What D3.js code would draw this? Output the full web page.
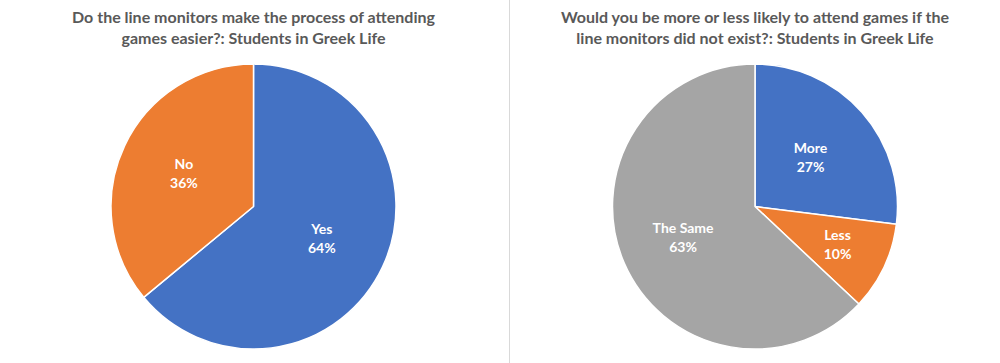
<!DOCTYPE html>
<html><head><meta charset="utf-8">
<script src="https://cdn.jsdelivr.net/npm/d3@7"></script>
<style>body{margin:0;background:#fff;} svg{display:block;}</style>
</head><body>
<svg id="chart" width="1000" height="363"></svg>
<script>
const leftTitle = ["Do the line monitors make the process of attending", "games easier?: Students in Greek Life"];
const leftLabels = ["Yes", "No"];
const leftValues = [64, 36];
const rightTitle = ["Would you be more or less likely to attend games if the", "line monitors did not exist?: Students in Greek Life"];
const rightLabels = ["More", "Less", "The Same"];
const rightValues = [27, 10, 63];
const colors = ["#4472C4", "#ED7D31", "#A5A5A5"];

const svg = d3.select("#chart");
const font = "Lato, 'Open Sans', sans-serif";

svg.append("line").attr("x1", 509.5).attr("x2", 509.5).attr("y1", 0).attr("y2", 363)
  .attr("stroke", "#d9d9d9").attr("stroke-width", 1);

function drawPie(cx, cy, r, title, labels, values, labelR) {
  const g = svg.append("g");
  const t = g.append("text").attr("text-anchor", "middle")
    .attr("font-family", font).attr("font-weight", "bold").attr("font-size", 16)
    .attr("fill", "#595959");
  title.forEach((line, i) => {
    t.append("tspan").attr("x", cx).attr("y", 23 + i * 21).text(line);
  });
  const pie = d3.pie().sort(null).value(d => d)(values);
  const arc = d3.arc().innerRadius(0).outerRadius(r);
  const pg = g.append("g").attr("transform", `translate(${cx},${cy})`);
  pg.selectAll("path").data(pie).join("path")
    .attr("d", arc).attr("fill", (d, i) => colors[i])
    .attr("stroke", "#fff").attr("stroke-width", 1.5).attr("stroke-linejoin", "round");
  pie.forEach((d, i) => {
    const la = d3.arc().innerRadius(0).outerRadius(2 * r * labelR[i]);
    const [x, y] = la.centroid(d);
    const tx = pg.append("text").attr("text-anchor", "middle")
      .attr("font-family", font).attr("font-weight", "bold").attr("font-size", 14)
      .attr("fill", "#fff");
    tx.append("tspan").attr("x", x).attr("y", y - 5).text(labels[i]);
    tx.append("tspan").attr("x", x).attr("y", y + 14).text(d3.format(".0f")(values[i]) + "%");
  });
}

drawPie(253.5, 206.5, 142.5, leftTitle, leftLabels, leftValues, [0.53, 0.54]);
drawPie(755, 206.5, 142.5, rightTitle, rightLabels, rightValues, [0.52, 0.64, 0.55]);
</script>
</body></html>
